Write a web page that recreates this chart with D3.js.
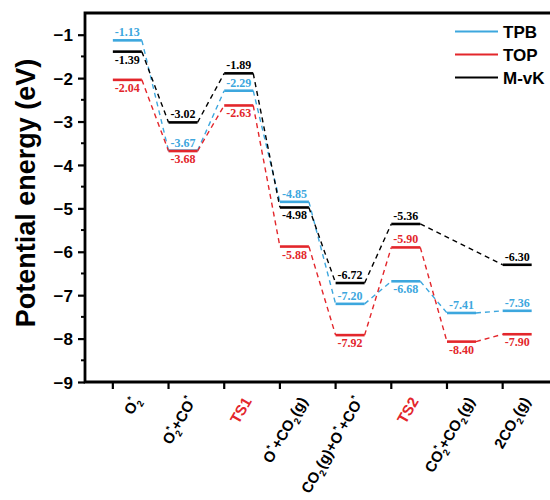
<!DOCTYPE html>
<html>
<head>
<meta charset="utf-8">
<script src="https://cdnjs.cloudflare.com/ajax/libs/d3/7.8.5/d3.min.js"></script>
<style>
  body { margin: 0; background: #fff; }
  svg { display: block; }
</style>
</head>
<body>
<div id="chart"></div>
<script>
(function(){
    var width = 550;
    var height = 500;

    // reaction steps (label pieces: [text, kind]; kind: sub, sup, ss = sup stacked over the previous sub)
    var steps = [
        [["O"], ["2", "sub"], ["*", "ss"]],
        [["O"], ["2", "sub"], ["*", "ss"], ["+CO"], ["*", "sup"]],
        [["TS1"]],
        [["O"], ["*", "sup"], ["+CO"], ["2", "sub"], ["(g)"]],
        [["CO"], ["2", "sub"], ["(g)+O"], ["*", "sup"], ["+CO"], ["*", "sup"]],
        [["TS2"]],
        [["CO"], ["2", "sub"], ["*", "ss"], ["+CO"], ["2", "sub"], ["(g)"]],
        [["2CO"], ["2", "sub"], ["(g)"]]
    ];
    var redSteps = [2, 5];

    // energy levels as drawn (eV)
    var tpb = [-1.13, -3.67, -2.29, -4.85, -7.20, -6.68, -7.41, -7.36];
    var top = [-2.04, -3.68, -2.63, -5.88, -7.92, -5.90, -8.07, -7.90];
    var mvk = [-1.39, -3.02, -1.89, -4.98, -6.72, -5.36, null, -6.30];

    // printed labels
    var tpbText = ["-1.13", "-3.67", "-2.29", "-4.85", "-7.20", "-6.68", "-7.41", "-7.36"];
    var topText = ["-2.04", "-3.68", "-2.63", "-5.88", "-7.92", "-5.90", "-8.40", "-7.90"];
    var mvkText = ["-1.39", "-3.02", "-1.89", "-4.98", "-6.72", "-5.36", null, "-6.30"];

    // label above (a) or below (b) the level
    var tpbPos = ["a", "a", "a", "a", "a", "b", "a", "a"];
    var topPos = ["b", "b", "b", "b", "b", "a", "b", "b"];
    var mvkPos = ["b", "a", "a", "b", "a", "a", null, "a"];

    var yTicks = [-1, -2, -3, -4, -5, -6, -7, -8, -9];

    var series = [
        {name: "TPB", color: "#3da7de", values: tpb, text: tpbText, pos: tpbPos},
        {name: "TOP", color: "#e3262b", values: top, text: topText, pos: topPos},
        {name: "M-vK", color: "#000000", values: mvk, text: mvkText, pos: mvkPos}
    ];

    var margin = {left: 85, top: 13, bottom: 382};
    var barW = 29;

    var svg = d3.select("#chart")
        .append("svg")
        .attr("width", width)
        .attr("height", height);

    var x = d3.scaleLinear().domain([-0.5, 7.85]).range([margin.left, width]);
    var y = d3.scaleLinear().domain([-9, -0.5]).range([margin.bottom, margin.top]);

    // dashed connectors
    series.forEach(function(s){
        var pts = [];
        s.values.forEach(function(v, i){ if (v !== null) pts.push(i); });
        for (var k = 0; k < pts.length - 1; k++) {
            var i0 = pts[k], i1 = pts[k + 1];
            svg.append("line")
                .attr("x1", x(i0) + barW).attr("y1", y(s.values[i0]))
                .attr("x2", x(i1)).attr("y2", y(s.values[i1]))
                .attr("stroke", s.color)
                .attr("stroke-width", 1.4)
                .attr("stroke-dasharray", "5,4");
        }
    });

    // levels
    series.forEach(function(s){
        svg.selectAll(".lvl-" + s.name)
            .data(s.values.map(function(v, i){ return {v: v, i: i}; }).filter(function(d){ return d.v !== null; }))
            .enter().append("line")
            .attr("x1", function(d){ return x(d.i); })
            .attr("x2", function(d){ return x(d.i) + barW; })
            .attr("y1", function(d){ return y(d.v); })
            .attr("y2", function(d){ return y(d.v); })
            .attr("stroke", s.color)
            .attr("stroke-width", 2.6);

        svg.selectAll(".val-" + s.name)
            .data(s.values.map(function(v, i){ return {v: v, i: i, t: s.text[i], p: s.pos[i]}; }).filter(function(d){ return d.v !== null; }))
            .enter().append("text")
            .attr("x", function(d){ return x(d.i) + barW / 2; })
            .attr("y", function(d){ return d.p === "a" ? y(d.v) - 4 : y(d.v) + 12; })
            .attr("text-anchor", "middle")
            .attr("font-family", "'Liberation Serif', 'Times New Roman', serif")
            .attr("font-weight", "bold")
            .attr("font-size", "12px")
            .attr("fill", s.color)
            .text(function(d){ return d.t; });
    });

    // frame / axes
    var yAxis = d3.axisLeft(y).tickValues(yTicks).tickSize(7).tickFormat(d3.format("d"));
    var gy = svg.append("g").attr("transform", "translate(" + margin.left + ",0)").call(yAxis);
    gy.select(".domain").remove();
    gy.selectAll(".tick line").attr("stroke-width", 2.2);
    gy.selectAll(".tick text")
        .attr("font-family", "'Liberation Sans', Arial, sans-serif")
        .attr("font-weight", "bold")
        .attr("font-size", "17px")
        .attr("fill", "#000")
        .attr("dy", "0.36em")
        .attr("x", -12);
    gy.selectAll(".minor")
        .data(d3.range(-8.5, -0.5, 1))
        .enter().append("line")
        .attr("x1", -4).attr("x2", 0)
        .attr("y1", function(d){ return y(d); })
        .attr("y2", function(d){ return y(d); })
        .attr("stroke", "#000")
        .attr("stroke-width", 2);

    var gx = svg.append("g").attr("transform", "translate(0," + margin.bottom + ")");
    gx.selectAll("line.xt")
        .data(steps)
        .enter().append("line")
        .attr("x1", function(d, i){ return x(i); })
        .attr("x2", function(d, i){ return x(i); })
        .attr("y1", 0).attr("y2", 7)
        .attr("stroke", "#000")
        .attr("stroke-width", 2.2);

    svg.append("path")
        .attr("d", "M" + width + "," + margin.top + "H" + margin.left + "V" + margin.bottom + "H" + width)
        .attr("fill", "none")
        .attr("stroke", "#000")
        .attr("stroke-width", 2.8);

    // x labels
    steps.forEach(function(segs, i){
        var t = svg.append("text")
            .attr("transform", "translate(" + (x(i) + 28) + "," + (margin.bottom + 19) + ") rotate(-60)")
            .attr("text-anchor", "end")
            .attr("font-family", "'Liberation Sans', Arial, sans-serif")
            .attr("font-weight", "bold")
            .attr("font-size", "15px")
            .attr("fill", redSteps.indexOf(i) >= 0 ? "#e3262b" : "#000");
        var off = 0;
        segs.forEach(function(s){
            var kind = s[1] || "n";
            var target = kind === "sub" ? 4 : (kind === "n" ? 0 : -7);
            var ts = t.append("tspan").text(s[0]).attr("dy", target - off);
            if (kind !== "n") ts.attr("font-size", "9.5px");
            if (kind === "ss") ts.attr("dx", -5.3);
            if (kind === "n" && off !== 0) ts.attr("dx", 1);
            off = target;
        });
        if (off !== 0) t.append("tspan").text("\u200b").attr("dy", -off);
    });

    // y title
    svg.append("text")
        .attr("transform", "translate(35,193) rotate(-90)")
        .attr("text-anchor", "middle")
        .attr("font-family", "'Liberation Sans', Arial, sans-serif")
        .attr("font-weight", "bold")
        .attr("font-size", "27px")
        .text("Potential energy (eV)");

    // legend
    var legend = svg.append("g").attr("class", "legend");
    var ly = d3.scaleBand().domain(series.map(function(s){ return s.name; })).range([20, 89]);
    series.forEach(function(s){
        var yy = ly(s.name) + ly.bandwidth() / 2;
        legend.append("line")
            .attr("x1", 455).attr("x2", 498)
            .attr("y1", yy).attr("y2", yy)
            .attr("stroke", s.color)
            .attr("stroke-width", 2.2);
        legend.append("text")
            .attr("x", 503).attr("y", yy)
            .attr("dy", "0.36em")
            .attr("font-family", "'Liberation Sans', Arial, sans-serif")
            .attr("font-weight", "bold")
            .attr("font-size", "17px")
            .text(s.name);
    });
})();
</script>
</body>
</html>
